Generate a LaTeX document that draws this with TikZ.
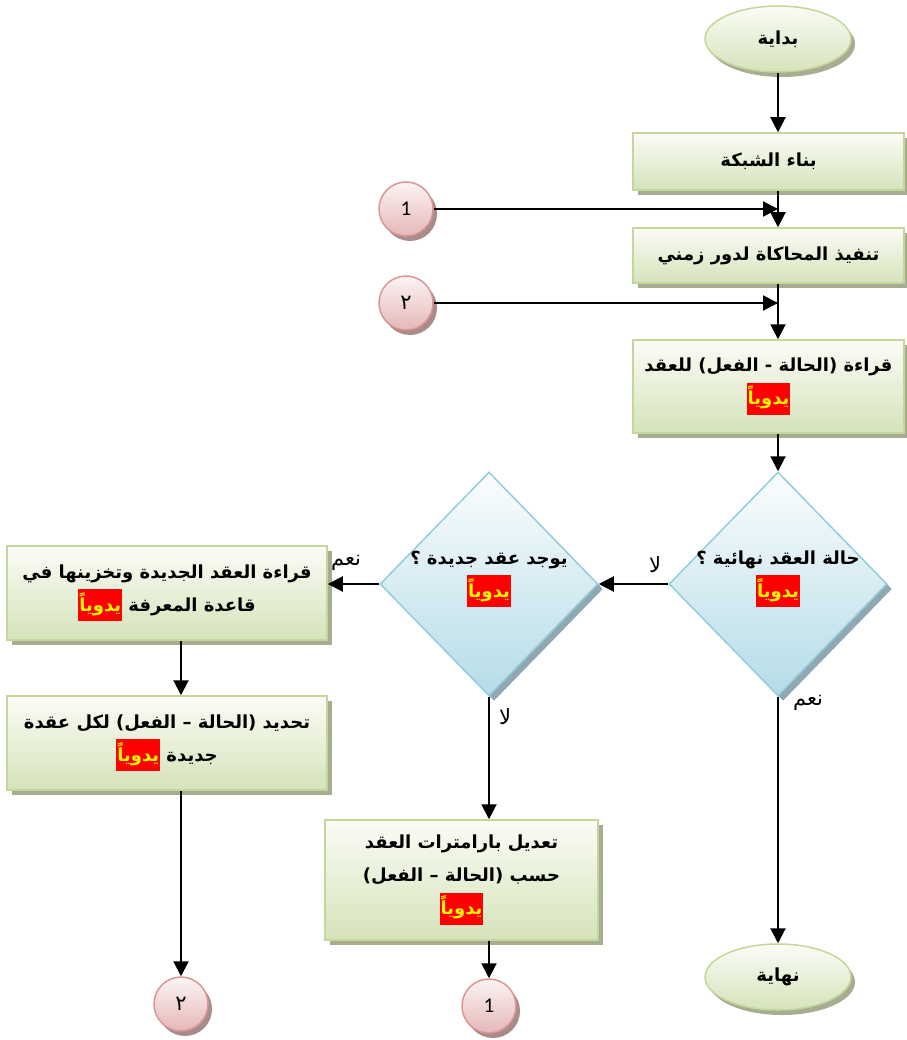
\documentclass[tikz,border=0pt]{standalone}
\usepackage{fontspec}
\usetikzlibrary{shapes.geometric,shadows,arrows.meta}
\TeXXeTstate=1
\newfontfamily\ar[Script=Arabic]{DejaVu Sans}
\newfontfamily\numfont{Carlito}
\definecolor{boxline}{HTML}{C3D69B}
\definecolor{boxtop}{HTML}{FBFCF6}
\definecolor{boxbot}{HTML}{D5E3BA}
\definecolor{boxshade}{HTML}{A8AD92}
\definecolor{dline}{HTML}{93CDDD}
\definecolor{dtop}{HTML}{FBFDFE}
\definecolor{dbot}{HTML}{B5DCE7}
\definecolor{dshade}{HTML}{8FA8B1}
\definecolor{cline}{HTML}{D99694}
\definecolor{ctop}{HTML}{FCF4F4}
\definecolor{cbot}{HTML}{E5B8B7}
\definecolor{cshade}{HTML}{A98B8B}
% red marker with yellow word "manually"
\newcommand\yadawi{{\setlength\fboxsep{1pt}\colorbox{red}{\rule[-9pt]{0pt}{30pt}\textcolor{yellow}{\beginR يدوياً\endR}}}}
\tikzset{
  base/.style={font=\ar\bfseries\fontsize{18}{33}\selectfont, align=center, inner sep=2pt},
  process/.style={base, rectangle, draw=boxline, line width=1.5pt,
    top color=boxtop, bottom color=boxbot,
    drop shadow={shadow xshift=5pt, shadow yshift=-5pt, fill=boxshade, opacity=1}},
  terminal/.style={base, ellipse, draw=boxline, line width=1.5pt,
    top color=boxtop, bottom color=boxbot, minimum width=146pt, minimum height=66pt,
    drop shadow={shadow xshift=4pt, shadow yshift=-5pt, fill=boxshade, opacity=1}},
  decision/.style={diamond, draw=dline, line width=1.5pt, inner sep=0pt,
    top color=dtop, bottom color=dbot, minimum width=218pt, minimum height=224pt,
    drop shadow={shadow xshift=5pt, shadow yshift=-5pt, fill=dshade, opacity=1}},
  decisiontext/.style={base},
  connector/.style={circle, draw=cline, line width=1.5pt, minimum size=54pt,
    top color=ctop, bottom color=cbot, font=\numfont\fontsize{21}{21}\selectfont,
    drop shadow={shadow xshift=4pt, shadow yshift=-5pt, fill=cshade, opacity=1}},
  flow/.style={line width=2pt, -{Triangle[length=15pt,width=15pt]}},
  lbl/.style={font=\ar\fontsize{21}{21}\selectfont, inner sep=1pt}
}
\begin{document}
\begin{tikzpicture}[x=1pt,y=-1pt]
\useasboundingbox (0,0) rectangle (906,1040);

% main column
\node[terminal] (start) at (778,39) {\beginR بداية\endR};
\node[process, minimum width=271pt, minimum height=57pt] (build) at (768.5,161.5)
  {\beginR بناء الشبكة\endR};
\node[process, minimum width=271pt, minimum height=55pt] (sim) at (768.5,255.5)
  {\beginR تنفيذ المحاكاة لدور زمني\endR};
\node[process, minimum width=271pt, minimum height=93pt] (read) at (768.5,386.5)
  {\beginR قراءة (الحالة - الفعل) للعقد\endR\\\yadawi};
\node[decision] (final) at (778,584) {};
\node[decisiontext] (finaltext) at ([yshift=5pt]final.center)
  {\beginR حالة العقد نهائية ؟\endR\\\yadawi};
\node[terminal] (stop) at (778,977) {\beginR نهاية\endR};

% second decision and its branches
\node[decision] (newq) at (489,584) {};
\node[decisiontext] (newqtext) at ([yshift=5pt]newq.center)
  {\beginR يوجد عقد جديدة ؟\endR\\\yadawi};
\node[process, minimum width=320pt, minimum height=94pt] (store) at (167,593)
  {\beginR قراءة العقد الجديدة وتخزينها في\endR\\\yadawi\ \beginR قاعدة المعرفة\endR};
\node[process, minimum width=320pt, minimum height=94pt] (assign) at (167,743)
  {\beginR تحديد (الحالة – الفعل) لكل عقدة\endR\\\yadawi\ \beginR جديدة\endR};
\node[process, minimum width=273pt, minimum height=120pt] (tune) at (461.5,880)
  {\beginR تعديل بارامترات العقد\endR\\\beginR حسب (الحالة – الفعل)\endR\\\yadawi};

% on-page connectors
\node[connector] (in1) at (406,209) {1};
\node[connector] (in2) at (406,303) {\ar ٢};
\node[connector] (out2) at (181,1004) {\ar ٢};
\node[connector] (out1) at (489,1006) {1};

% branch labels
\node[lbl] (noA) at (655,565) {\beginR لا\endR};
\node[lbl] (yesA) at (346,563) {\beginR نعم\endR};
\node[lbl] (noB) at (505,717) {\beginR لا\endR};
\node[lbl] (yesB) at (808,703) {\beginR نعم\endR};

% flow lines
\draw[flow] (start.south) -- (build.north -| start);
\draw[flow] (build.south -| start) -- (sim.north -| start);
\draw[flow] (in1.east) -- (in1.east -| start);
\draw[flow] (sim.south -| start) -- (read.north -| start);
\draw[flow] (in2.east) -- (in2.east -| start);
\draw[flow] (read.south -| start) -- (final.north);
\draw[flow] (final.west) -- (newq.east);
\draw[flow] (newq.west) -- (newq.west -| store.east);
\draw[flow] (store.south -| out2) -- (assign.north -| out2);
\draw[flow] (assign.south -| out2) -- (out2.north);
\draw[flow] (newq.south) -- (tune.north -| newq);
\draw[flow] (tune.south -| out1) -- (out1.north);
\draw[flow] (final.south) -- (stop.north);
\end{tikzpicture}
\end{document}
